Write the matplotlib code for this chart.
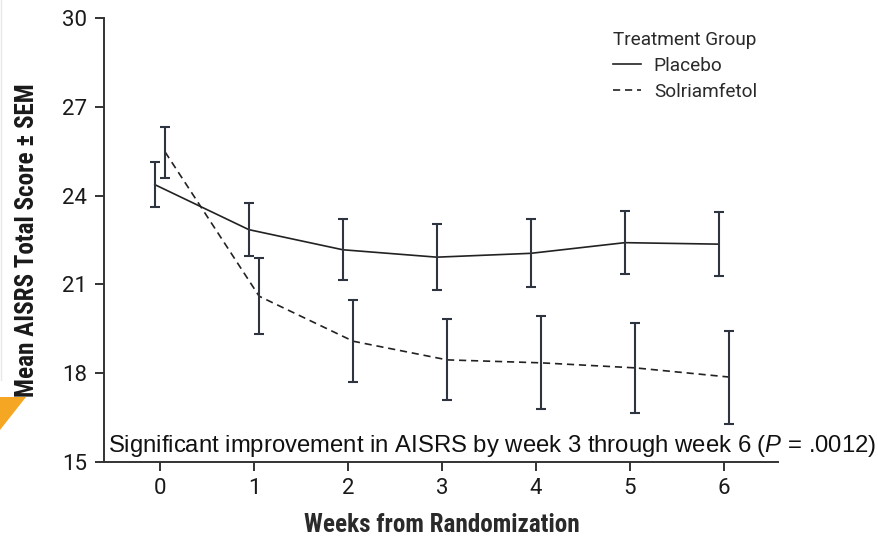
import matplotlib
matplotlib.use("Agg")
import matplotlib.pyplot as plt
from matplotlib import font_manager as fm
from matplotlib.patches import Polygon
import numpy as np

# ---------------- data ----------------
weeks = [0, 1, 2, 3, 4, 5, 6]
placebo_mean = [24.37, 22.85, 22.17, 21.92, 22.05, 22.41, 22.36]
placebo_sem = [0.76, 0.90, 1.03, 1.12, 1.15, 1.07, 1.07]
solri_mean = [25.47, 20.60, 19.08, 18.45, 18.35, 18.18, 17.87]
solri_sem = [0.86, 1.28, 1.38, 1.37, 1.57, 1.52, 1.57]
series_labels = ["Placebo", "Solriamfetol"]
legend_title = "Treatment Group"
y_ticks = [15, 18, 21, 24, 27, 30]
x_label = "Weeks from Randomization"
y_label = "Mean AISRS Total Score \u00b1 SEM"
note = r"Significant improvement in AISRS by week 3 through week 6 ($\mathit{P}$ = .0012)"

# ---------------- fonts ----------------
names = {f.name for f in fm.fontManager.ttflist}
def pick(cands, default="DejaVu Sans"):
    for c in cands:
        if c in names:
            return c
    return default

narrow = pick(["Roboto Condensed", "Liberation Sans Narrow", "Open Sans Condensed",
               "Noto Sans Condensed", "Roboto"])
arial = pick(["Liberation Sans", "Arial"])
regular = pick(["Roboto", "Lato", "Noto Sans"])

plt.rcParams["mathtext.fontset"] = "custom"
plt.rcParams["mathtext.rm"] = arial
plt.rcParams["mathtext.it"] = arial + ":italic"

W, H = 879, 538
fig = plt.figure(figsize=(W / 100, H / 100), dpi=100)
AX_L, AX_R, AX_T, AX_B = 104, 778, 18, 462
ax = fig.add_axes([AX_L / W, (H - AX_B) / H, (AX_R - AX_L) / W, (AX_B - AX_T) / H])

line_col = "#222222"
err_col = "#2f3540"
off = 0.055
xp = np.array(weeks) - off
xs = np.array(weeks) + off

lp, = ax.plot(xp, placebo_mean, color=line_col, lw=1.2, label=series_labels[0])
ls, = ax.plot(xs, solri_mean, color=line_col, lw=1.2, label=series_labels[1])
ls.set_dashes((4.3, 2.9))
ax.errorbar(xp, placebo_mean, yerr=placebo_sem, fmt="none", ecolor=err_col,
            elinewidth=1.5, capsize=3.3, capthick=1.5)
ax.errorbar(xs, solri_mean, yerr=solri_sem, fmt="none", ecolor=err_col,
            elinewidth=1.5, capsize=3.3, capthick=1.5)

ax.set_xlim(-(160 - AX_L) / 94, (AX_R - 160) / 94)
ax.set_ylim(15, 30)
ax.set_yticks(y_ticks)
ax.set_xticks(weeks)
for s in ["top", "right"]:
    ax.spines[s].set_visible(False)
for s in ["left", "bottom"]:
    ax.spines[s].set_linewidth(1.4)
    ax.spines[s].set_color("#333333")
ax.tick_params(axis="both", length=6.5, width=1.4, color="#333333",
               labelsize=16, labelcolor="#1a1a1a")
ax.tick_params(axis="y", pad=5.5)
ax.tick_params(axis="x", pad=5)
for lab in ax.get_xticklabels() + ax.get_yticklabels():
    lab.set_fontfamily(regular)

ax.set_xlabel(x_label, fontsize=17, fontweight="bold", family=narrow,
              color="#2a2a2a")
ax.set_ylabel(y_label, fontsize=17, fontweight="bold", family=narrow,
              color="#1a1a1a")

txt = ax.text(0, 0, note, transform=None, ha="left", va="baseline", fontsize=16.5,
              family=arial, color="#111111", clip_on=False)

leg = ax.legend(handles=[lp, ls], title=legend_title, loc="upper left",
                bbox_to_anchor=(613 / W, (H - 31) / H), bbox_transform=fig.transFigure,
                frameon=False, alignment="left", handlelength=1.45, handletextpad=0.65,
                borderpad=0, borderaxespad=0, labelspacing=0.4,
                prop={"family": regular, "size": 14},
                title_fontproperties={"family": regular, "size": 14})
for t in leg.get_texts():
    t.set_color("#2a2a2a")
leg.get_title().set_color("#2a2a2a")

# ---- fit text sizes to the measured extents of the reference ----
def fit(t, target, dim="w"):
    fig.canvas.draw()
    bb = t.get_window_extent()
    cur = bb.width if dim == "w" else bb.height
    t.set_fontsize(t.get_fontsize() * target / cur)

fit(ax.yaxis.label, 314, "h")
ax.xaxis.label.set_fontsize(ax.yaxis.label.get_fontsize())
fit(txt, 767, "w")
fit(leg.get_title(), 145, "w")
for t in leg.get_texts():
    t.set_fontsize(leg.get_title().get_fontsize())

# label positions (pixel -> axes fraction)
ax.xaxis.label.set_va("center")
ax.xaxis.set_label_coords(((442) - AX_L) / (AX_R - AX_L), -(525 - AX_B) / (AX_B - AX_T))
ax.yaxis.label.set_va("center")
ax.yaxis.set_label_coords((27 - AX_L) / (AX_R - AX_L), 0.5)

# note text: left at 108 px, baseline at 452 px (from top)
txt.set_position((108, H - 452))

# decorative orange corner and faint edge line from the slide
tri = Polygon([[0, H - 397], [26, H - 397], [0, H - 430]], closed=True,
              transform=None, facecolor="#f5a623", edgecolor="none", zorder=0)
fig.patches.append(tri)
fig.add_artist(plt.Line2D([1 / W, 1 / W], [(H - 380) / H, 1], color="#e8e8e8",
                          lw=1, transform=fig.transFigure))

fig.savefig("out.png", dpi=100)
